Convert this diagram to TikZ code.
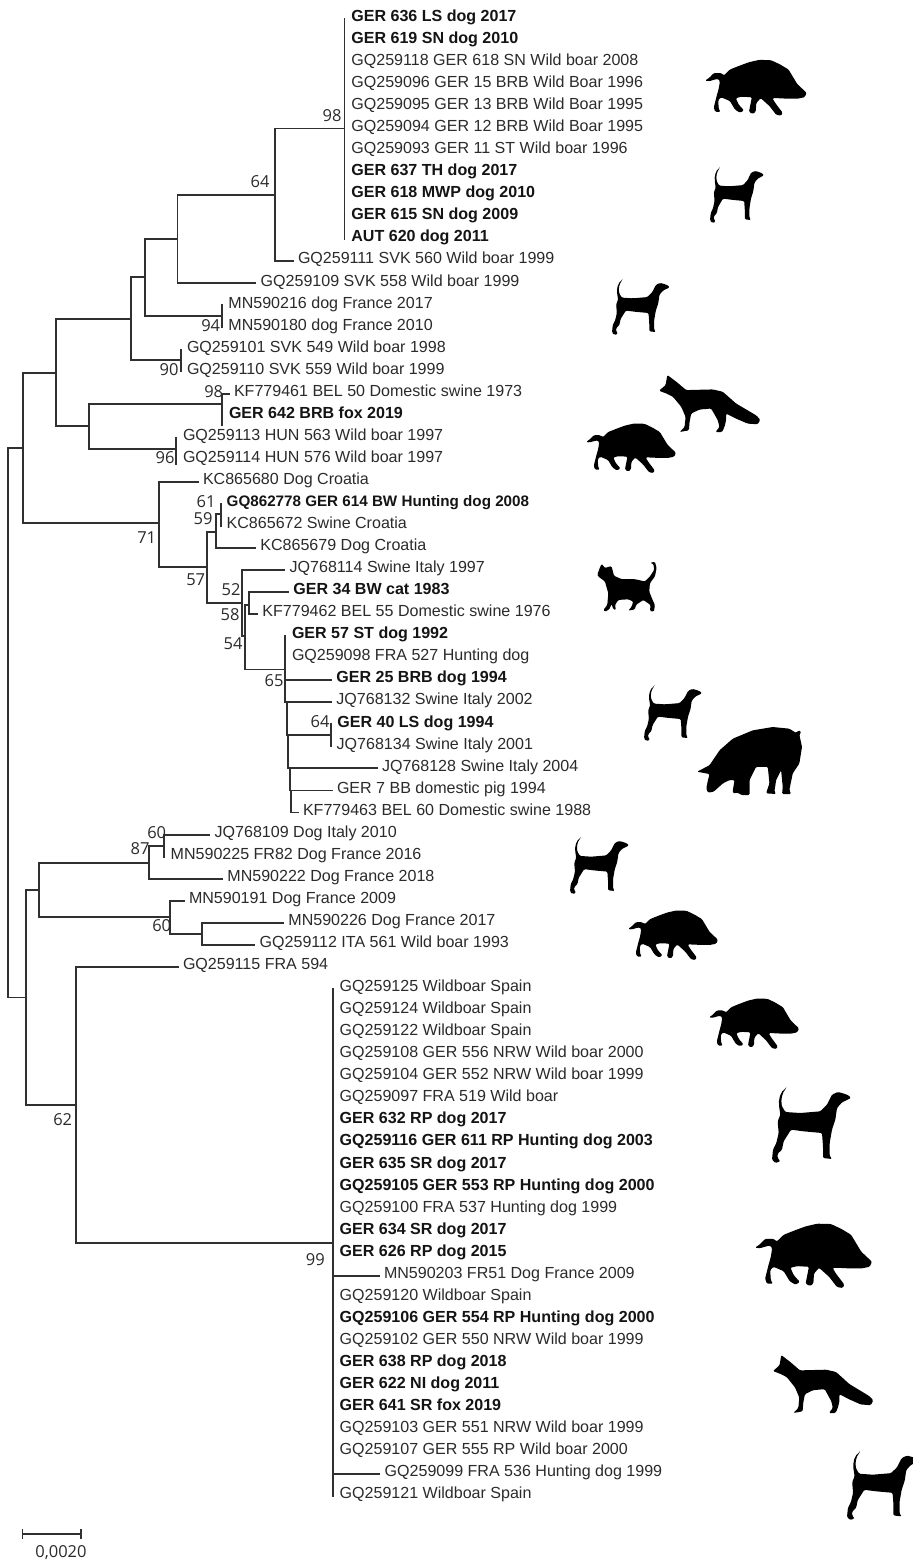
\documentclass[tikz,border=0pt]{standalone}
\usepackage{fontspec}
\setmainfont{Liberation Sans}
\newfontfamily\supfont{Open Sans}
\definecolor{ink}{HTML}{2B2B2B}
\definecolor{inkb}{HTML}{141414}
\definecolor{brc}{HTML}{303030}
\tikzset{
  tipbase/.style={anchor=base west,inner xsep=5pt,inner ysep=0pt,text height=11pt,text depth=5.6pt},
  tipn/.style={tipbase,text=ink,font=\fontsize{16.05}{18}\selectfont},
  tipb/.style={tipbase,text=inkb,font=\fontsize{16.05}{18}\selectfont\bfseries},
  tips/.style={tipbase,text=inkb,font=\fontsize{15.2}{18}\selectfont\bfseries},
  supp/.style={inner sep=0pt,text=ink,font=\supfont\fontsize{16.5}{18}\selectfont},
  br/.style={draw=brc,line width=1.9pt,line cap=rect},
  anim/.style={black,rounded corners=1.2pt},
  dogp/.pic={\fill[anim,shift={(-215,-115)}] (258,115) .. controls (240,125) and (233,150) .. (237,175) -- (240,195) -- (232,215) -- (235,250) -- (228,280) -- (218,300) -- (215,330) -- (225,340) -- (240,335) -- (232,325) -- (232,312) -- (245,300) -- (250,275) -- (272,240) -- (310,245) -- (365,250) -- (368,290) -- (368,325) -- (395,328) -- (388,318) -- (388,280) -- (395,240) -- (405,210) -- (410,175) -- (425,158) -- (452,145) -- (445,137) -- (425,130) -- (412,127) -- (395,135) -- (380,165) -- (360,185) -- (300,190) -- (255,187) -- (245,170) .. controls (241,150) and (245,130) .. (258,115) -- cycle;},
  boarp/.pic={\fill[anim,shift={(-15,-25)}] (15,98) -- (30,88) -- (45,72) -- (70,72) -- (80,80) -- (100,60) -- (130,48) -- (165,35) -- (200,27) -- (240,28) -- (270,42) -- (300,60) -- (315,85) -- (330,110) -- (362,140) -- (355,155) -- (330,160) -- (300,160) -- (260,158) -- (245,158) -- (255,175) -- (280,208) -- (275,218) -- (258,215) -- (235,185) -- (205,158) -- (190,175) -- (188,205) -- (178,212) -- (165,205) -- (172,170) -- (175,155) -- (140,153) -- (120,158) -- (130,180) -- (148,200) -- (135,208) -- (118,198) -- (100,168) -- (70,155) -- (60,165) -- (62,195) -- (68,205) -- (50,205) -- (45,190) -- (55,150) -- (62,125) -- (66,100) -- (60,92) -- (45,95) -- (30,100) -- cycle;},
  foxp/.pic={\fill[anim,shift={(-238,-975)}] (263,975) -- (290,995) -- (320,1020) -- (400,1018) -- (430,1025) -- (470,1060) -- (530,1095) -- (543,1108) -- (535,1122) -- (505,1120) -- (470,1105) -- (440,1090) -- (440,1110) -- (435,1130) -- (428,1145) -- (408,1145) -- (420,1130) -- (415,1110) -- (395,1075) -- (360,1078) -- (335,1090) -- (330,1115) -- (328,1140) -- (300,1145) -- (315,1130) -- (318,1100) -- (305,1070) -- (280,1040) -- (260,1030) -- (238,1022) -- (258,1005) -- cycle;},
  catp/.pic={\fill[anim,shift={(-112,-36)}] (112,75) -- (118,58) -- (125,42) -- (135,55) -- (150,50) -- (155,50) -- (162,78) -- (185,88) -- (225,88) -- (255,95) -- (270,80) -- (283,60) -- (280,42) -- (270,40) -- (285,36) -- (290,55) -- (285,80) -- (270,100) -- (268,125) -- (278,150) -- (285,165) -- (282,185) -- (270,183) -- (272,165) -- (250,150) -- (228,165) -- (225,178) -- (205,182) -- (215,170) -- (220,155) -- (205,148) -- (175,150) -- (165,165) -- (168,180) -- (160,178) -- (155,162) -- (148,178) -- (135,185) -- (130,180) -- (142,165) -- (145,130) -- (135,95) -- (115,80) -- cycle;},
  pigp/.pic={\fill[anim,shift={(-412,-530)}] (412,665) -- (450,645) -- (480,600) -- (520,565) -- (580,540) -- (640,530) -- (690,535) -- (710,548) -- (718,540) -- (726,545) -- (720,553) -- (728,590) -- (720,640) -- (700,670) -- (690,720) -- (695,732) -- (668,732) -- (670,710) -- (665,660) -- (650,690) -- (645,725) -- (650,732) -- (620,730) -- (630,700) -- (625,650) -- (590,650) -- (570,690) -- (570,735) -- (545,735) -- (535,728) -- (520,730) -- (520,720) -- (525,690) -- (510,690) -- (490,700) -- (462,725) -- (445,728) -- (440,715) -- (445,690) -- (450,672) -- (430,668) -- cycle;}
}
\newcommand{\tipN}[3]{\node[tipn] (t#1) at ({#2-5.5},{21.4+22.05*#1}) {#3};}
\newcommand{\tipB}[3]{\node[tipb] (t#1) at ({#2-5.5},{21.4+22.05*#1}) {#3};}
% kind, x, y, xscale, yscale
\newcommand{\animal}[5]{\pic[xscale=#4,yscale=#5] at (#2,#3) {#1};}
\begin{document}
\begin{tikzpicture}[x=1pt,y=-1pt]
\useasboundingbox (0,0) rectangle (913,1564);
\fill[white] (0,0) rectangle (913,1564);
% ---- tips
\tipB{0}{351.7}{GER 636 LS dog 2017}
\tipB{1}{351.7}{GER 619 SN dog 2010}
\tipN{2}{351.7}{GQ259118 GER 618 SN Wild boar 2008}
\tipN{3}{351.7}{GQ259096 GER 15 BRB Wild Boar 1996}
\tipN{4}{351.7}{GQ259095 GER 13 BRB Wild Boar 1995}
\tipN{5}{351.7}{GQ259094 GER 12 BRB Wild Boar 1995}
\tipN{6}{351.7}{GQ259093 GER 11 ST Wild boar 1996}
\tipB{7}{351.7}{GER 637 TH dog 2017}
\tipB{8}{351.7}{GER 618 MWP dog 2010}
\tipB{9}{351.7}{GER 615 SN dog 2009}
\tipB{10}{351.7}{AUT 620 dog 2011}
\tipN{11}{298.3}{GQ259111 SVK 560 Wild boar 1999}
\tipN{12}{261}{GQ259109 SVK 558 Wild boar 1999}
\tipN{13}{228.7}{MN590216 dog France 2017}
\tipN{14}{228.7}{MN590180 dog France 2010}
\tipN{15}{187.3}{GQ259101 SVK 549 Wild boar 1998}
\tipN{16}{187.3}{GQ259110 SVK 559 Wild boar 1999}
\tipN{17}{234.3}{KF779461 BEL 50 Domestic swine 1973}
\tipB{18}{229.3}{GER 642 BRB fox 2019}
\tipN{19}{183.3}{GQ259113 HUN 563 Wild boar 1997}
\tipN{20}{183.3}{GQ259114 HUN 576 Wild boar 1997}
\tipN{21}{203.3}{KC865680 Dog Croatia}
\node[tips] (t22) at ({227-5.5},{21.4+22.05*22}) {GQ862778 GER 614 BW Hunting dog 2008};
\tipN{23}{227}{KC865672 Swine Croatia}
\tipN{24}{260.7}{KC865679 Dog Croatia}
\tipN{25}{290}{JQ768114 Swine Italy 1997}
\tipB{26}{293.7}{GER 34 BW cat 1983}
\tipN{27}{262.7}{KF779462 BEL 55 Domestic swine 1976}
\tipB{28}{292.3}{GER 57 ST dog 1992}
\tipN{29}{292.3}{GQ259098 FRA 527 Hunting dog}
\tipB{30}{336.7}{GER 25 BRB dog 1994}
\tipN{31}{336.7}{JQ768132 Swine Italy 2002}
\tipB{32}{337.7}{GER 40 LS dog 1994}
\tipN{33}{337}{JQ768134 Swine Italy 2001}
\tipN{34}{382.3}{JQ768128 Swine Italy 2004}
\tipN{35}{337.3}{GER 7 BB domestic pig 1994}
\tipN{36}{303.3}{KF779463 BEL 60 Domestic swine 1988}
\tipN{37}{215}{JQ768109 Dog Italy 2010}
\tipN{38}{171}{MN590225 FR82 Dog France 2016}
\tipN{39}{227.7}{MN590222 Dog France 2018}
\tipN{40}{189.3}{MN590191 Dog France 2009}
\tipN{41}{288.7}{MN590226 Dog France 2017}
\tipN{42}{260}{GQ259112 ITA 561 Wild boar 1993}
\tipN{43}{183.3}{GQ259115 FRA 594}
\tipN{44}{340}{GQ259125 Wildboar Spain}
\tipN{45}{340}{GQ259124 Wildboar Spain}
\tipN{46}{340}{GQ259122 Wildboar Spain}
\tipN{47}{340}{GQ259108 GER 556 NRW Wild boar 2000}
\tipN{48}{340}{GQ259104 GER 552 NRW Wild boar 1999}
\tipN{49}{340}{GQ259097 FRA 519 Wild boar}
\tipB{50}{340}{GER 632 RP dog 2017}
\tipB{51}{340}{GQ259116 GER 611 RP Hunting dog 2003}
\tipB{52}{340}{GER 635 SR dog 2017}
\tipB{53}{340}{GQ259105 GER 553 RP Hunting dog 2000}
\tipN{54}{340}{GQ259100 FRA 537 Hunting dog 1999}
\tipB{55}{340}{GER 634 SR dog 2017}
\tipB{56}{340}{GER 626 RP dog 2015}
\tipN{57}{384.3}{MN590203 FR51 Dog France 2009}
\tipN{58}{340}{GQ259120 Wildboar Spain}
\tipB{59}{340}{GQ259106 GER 554 RP Hunting dog 2000}
\tipN{60}{340}{GQ259102 GER 550 NRW Wild boar 1999}
\tipB{61}{340}{GER 638 RP dog 2018}
\tipB{62}{340}{GER 622 NI dog 2011}
\tipB{63}{340}{GER 641 SR fox 2019}
\tipN{64}{340}{GQ259103 GER 551 NRW Wild boar 1999}
\tipN{65}{340}{GQ259107 GER 555 RP Wild boar 2000}
\tipN{66}{385}{GQ259099 FRA 536 Hunting dog 1999}
\tipN{67}{340}{GQ259121 Wildboar Spain}
% ---- internal nodes
\coordinate (n98) at (344.5,128.5);
\coordinate (n64) at (275,194.7);
\coordinate (n1) at (177.5,238.7);
\coordinate (n2) at (145.3,277.3);
\coordinate (n94) at (222.3,315.7);
\coordinate (n3) at (130.7,319);
\coordinate (n90) at (181,360);
\coordinate (n4) at (56,372.7);
\coordinate (n5) at (89,426.3);
\coordinate (n98b) at (222.3,404.3);
\coordinate (e98b) at (222.3,425);
\coordinate (n96) at (176,448.7);
\coordinate (e96) at (176,464);
\coordinate (n6) at (23.3,448.3);
\coordinate (n0) at (8.3,723);
\coordinate (n7) at (159,523.3);
\coordinate (n8) at (207.3,567.3);
\coordinate (n9) at (216,531.7);
\coordinate (n61) at (221,514.3);
\coordinate (n10) at (241.7,603.3);
\coordinate (n11) at (244.6,636);
\coordinate (n12) at (249.3,605);
\coordinate (n65) at (285.3,669.5);
\coordinate (c2) at (286.8,718);
\coordinate (n64b) at (331.3,735);
\coordinate (c3) at (288.3,751);
\coordinate (c4) at (289.7,780);
\coordinate (c5) at (291,801);
\coordinate (n20) at (26.3,997.5);
\coordinate (n21) at (39,890);
\coordinate (n87) at (149,862.7);
\coordinate (n60b) at (164.3,845.7);
\coordinate (n60c) at (170,917.3);
\coordinate (n60d) at (201.7,934);
\coordinate (n22) at (76,1104.7);
\coordinate (n99) at (333.3,1243);
% ---- branches
\draw[br] (n98 |- t0.west) -- (n98 |- t10.west);
\draw[br] (n98) -| (n64) |- (t11.west);
\draw[br] (n64) -| (n1) |- (t12.west);
\draw[br] (n1) -| (n2) |- (n94);
\draw[br] (n94 |- t13.west) -- (n94 |- t14.west);
\draw[br] (n2) -| (n3) |- (n90);
\draw[br] (n90 |- t15.west) -- (n90 |- t16.west);
\draw[br] (n3) -| (n4) |- (n5);
\draw[br] (n98b) -| (n5) |- (n96);
\draw[br] (t17.west) -| (e98b);
\draw[br] (n96 |- t19.west) -- (e96);
\draw[br] (n4) -| (n6) |- (n7);
\draw[br] (n6) -| (n0) |- (n20);
\draw[br] (t21.west) -| (n7) |- (n8);
\draw[br] (n9) -| (n8) |- (n10);
\draw[br] (n61) -| (n9) |- (t24.west);
\draw[br] (n61 |- t22.west) -- (n61 |- t23.west);
\draw[br] (t25.west) -| (n10) |- (n11);
\draw[br] (n12) -| (n11) |- (n65);
\draw[br] (t26.west) -| (n12) |- (t27.west);
\draw[br] (n65 |- t28.west) -- (n65 |- t31.west);
\draw[br] (n65 |- t30.west) -- (t30.west);
\draw[br] (n65 |- t31.west) -- (t31.west);
\draw[br] (c2 |- t31.west) |- (n64b);
\draw[br] (n64b |- t32.west) -- (n64b |- t33.west);
\draw[br] (c3 |- n64b) |- (t34.west);
\draw[br] (c4 |- t34.west) |- (t35.west);
\draw[br] (c5 |- t35.west) |- (t36.west);
\draw[br] (n21) -| (n20) |- (n22);
\draw[br] (n87) -| (n21) |- (n60c);
\draw[br] (n60b) -| (n87) |- (t39.west);
\draw[br] (t37.west) -| (n60b |- t38.west);
\draw[br] (t40.west) -| (n60c) |- (n60d);
\draw[br] (t41.west) -| (n60d) |- (t42.west);
\draw[br] (t43.west) -| (n22) |- (n99);
\draw[br] (n99 |- t44.west) -- (n99 |- t67.west);
\draw[br] (n99 |- t57.west) -- (t57.west);
\draw[br] (n99 |- t66.west) -- (t66.west);
% ---- support values
\node[supp] (s1) at (332,115.7) {98};
\node[supp] (s2) at (260,181.7) {64};
\node[supp] (s3) at (210.7,326) {94};
\node[supp] (s4) at (169,370) {90};
\node[supp] (s5) at (213.7,391.7) {98};
\node[supp] (s6) at (165,458) {96};
\node[supp] (s7) at (146.7,538) {71};
\node[supp] (s8) at (206,502) {61};
\node[supp] (s9) at (203,519) {59};
\node[supp] (s10) at (195.7,579.3) {57};
\node[supp] (s11) at (231,590) {52};
\node[supp] (s12) at (230,615) {58};
\node[supp] (s13) at (233,644) {54};
\node[supp] (s14) at (274,680.7) {65};
\node[supp] (s15) at (320,722) {64};
\node[supp] (s16) at (156.7,833) {60};
\node[supp] (s17) at (140,849) {87};
\node[supp] (s18) at (161.7,925.7) {60};
\node[supp] (s19) at (62.7,1120) {62};
\node[supp] (s20) at (315.3,1259.7) {99};
% ---- scale bar
\coordinate (sbl) at (22.3,1534);
\coordinate (sbr) at (81,1534);
\draw[br,line width=1.6pt] (sbl) -- (sbr);
\draw[br,line width=1.6pt] ([yshift=-4pt]sbl) -- ([yshift=4pt]sbl);
\draw[br,line width=1.6pt] ([yshift=-4pt]sbr) -- ([yshift=4pt]sbr);
\node[supp] (sbt) at (61,1553) {0,0020};
% ---- silhouettes
\animal{boarp}{705}{59.3}{0.293}{0.292}
\animal{dogp}{710}{168}{0.2278}{0.2444}
\animal{dogp}{612}{280}{0.2435}{0.2444}
\animal{foxp}{659}{375}{0.3322}{0.3353}
\animal{boarp}{586}{423}{0.2594}{0.2591}
\animal{catp}{597.3}{561.7}{0.3331}{0.3355}
\animal{dogp}{644}{686}{0.2447}{0.2444}
\animal{pigp}{697}{727}{0.3323}{0.3317}
\animal{dogp}{570}{838}{0.2489}{0.2489}
\animal{boarp}{628}{910}{0.2594}{0.2591}
\animal{boarp}{709}{998}{0.2594}{0.2642}
\animal{dogp}{772}{1088}{0.3333}{0.3333}
\animal{boarp}{755}{1223}{0.3372}{0.3368}
\animal{foxp}{773}{1355}{0.3290}{0.3412}
\begin{scope}
\clip (0,0) rectangle (913,1564);
\animal{dogp}{847}{1452}{0.3038}{0.3022}
\end{scope}
\end{tikzpicture}
\end{document}
